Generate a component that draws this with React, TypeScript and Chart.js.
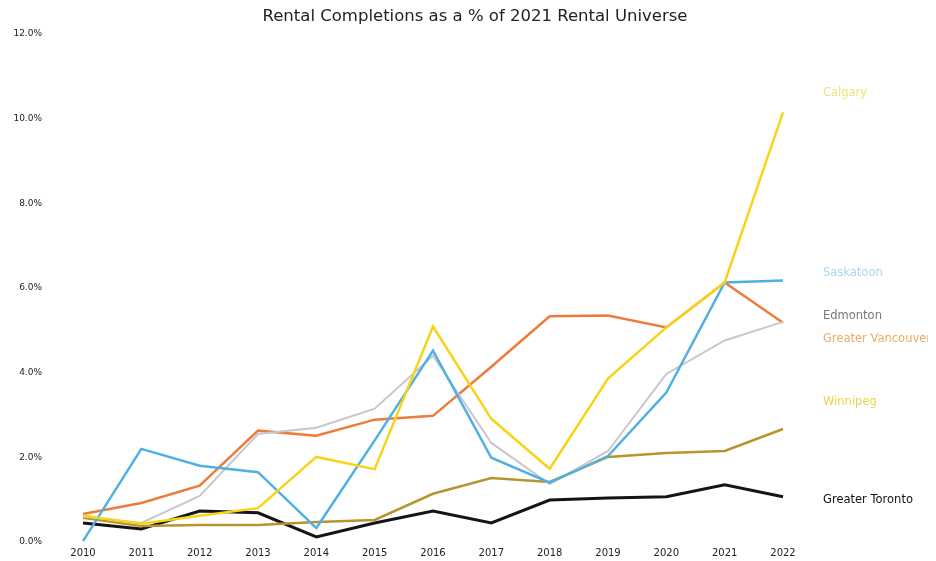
import React, { useEffect, useRef } from "react";
import { Chart, registerables } from "chart.js";

Chart.register(...registerables);

const years = ["2010", "2011", "2012", "2013", "2014", "2015", "2016", "2017", "2018", "2019", "2020", "2021", "2022"];

const calgary = [0.62, 0.43, 0.62, 0.8, 2.01, 1.72, 5.09, 2.91, 1.73, 3.86, 5.07, 6.13, 10.15];
const saskatoon = [0.02, 2.2, 1.8, 1.65, 0.33, 2.4, 4.52, 1.99, 1.4, 2.03, 3.53, 6.13, 6.18];
const edmonton = [0.6, 0.45, 1.09, 2.55, 2.7, 3.15, 4.4, 2.34, 1.37, 2.15, 3.97, 4.76, 5.2];
const vancouver = [0.66, 0.92, 1.33, 2.63, 2.51, 2.89, 2.98, 4.14, 5.33, 5.35, 5.07, 6.13, 5.18];
const winnipeg = [0.57, 0.38, 0.4, 0.4, 0.47, 0.52, 1.14, 1.51, 1.42, 2.01, 2.1, 2.15, 2.67];
const toronto = [0.45, 0.31, 0.73, 0.69, 0.12, 0.45, 0.73, 0.45, 0.99, 1.04, 1.07, 1.35, 1.07];

const seriesNames = ["Calgary", "Saskatoon", "Edmonton", "Greater Vancouver", "Winnipeg", "Greater Toronto"];
// value (in %) at which each end label is written
const labelAnchors = [10.6, 6.35, 5.35, 4.8, 3.3, 1.0];

const titleText = "Rental Completions as a % of 2021 Rental Universe";

const colors = ["#F7D417", "#4FB0E3", "#C9C6CC", "#EC7B3C", "#B69530", "#151515"];
const labelColors = ["#F0E27A", "#A9D5EC", "#777777", "#EBAA6A", "#EBD449", "#111111"];
const widths = [2.5, 2.5, 2, 2.5, 2.5, 3];

const FONT = "'DejaVu Sans', sans-serif";

const endLabels = {
  id: "endLabels",
  afterDatasetsDraw(chart: any) {
    const { ctx, chartArea, scales } = chart;
    ctx.save();
    ctx.textBaseline = "middle";
    ctx.textAlign = "left";
    seriesNames.forEach((name, i) => {
      const y = scales.y.getPixelForValue(labelAnchors[i]);
      ctx.font = "11.5px " + FONT;
      ctx.fillStyle = labelColors[i];
      ctx.fillText(name, chartArea.right + 40, y);
    });
    // title, centred on the whole canvas
    ctx.font = "16.5px " + FONT;
    ctx.fillStyle = "#222";
    ctx.textAlign = "center";
    ctx.fillText(titleText, 467, 9);
    ctx.restore();
  },
};

export default function App() {
  const ref = useRef<HTMLCanvasElement>(null);
  useEffect(() => {
    if (!ref.current) return;
    const all = [calgary, saskatoon, edmonton, vancouver, winnipeg, toronto];
    const chart = new Chart(ref.current, {
      type: "line",
      data: {
        labels: years,
        datasets: all.map((d, i) => ({
          label: seriesNames[i],
          data: d,
          borderColor: colors[i],
          backgroundColor: colors[i],
          borderWidth: widths[i],
          pointRadius: 0,
          tension: 0,
          fill: false,
        })),
      },
      options: {
        animation: false,
        responsive: false,
        layout: { padding: { right: 153, left: 0, top: 26, bottom: 0 } },
        plugins: {
          legend: { display: false },
          tooltip: { enabled: false },
          title: { display: false },
        },
        scales: {
          x: {
            type: "category",
            offset: false,
            grid: { display: false, drawTicks: false },
            border: { display: false },
            afterFit: (s: any) => {
              s.height = 17;
            },
            ticks: {
              color: "#222",
              font: { family: FONT, size: 10 },
              padding: 5,
              maxRotation: 0,
              autoSkip: false,
            },
          },
          y: {
            min: 0,
            max: 12,
            grid: { display: false, drawTicks: false },
            border: { display: false },
            afterFit: (s: any) => {
              s.width = 75;
              s.paddingTop = 5;
              s.paddingBottom = 5;
            },
            ticks: {
              stepSize: 2,
              color: "#222",
              padding: 41,
              font: { family: FONT, size: 9 },
              callback: (v: any) => Number(v).toFixed(1) + "%",
            },
          },
        },
      },
      plugins: [endLabels],
    });
    return () => chart.destroy();
  }, []);
  return (
    <div style={{ width: "928px", height: "551px" }}>
      <canvas ref={ref} width={928} height={551} style={{ display: "block" }} />
    </div>
  );
}
